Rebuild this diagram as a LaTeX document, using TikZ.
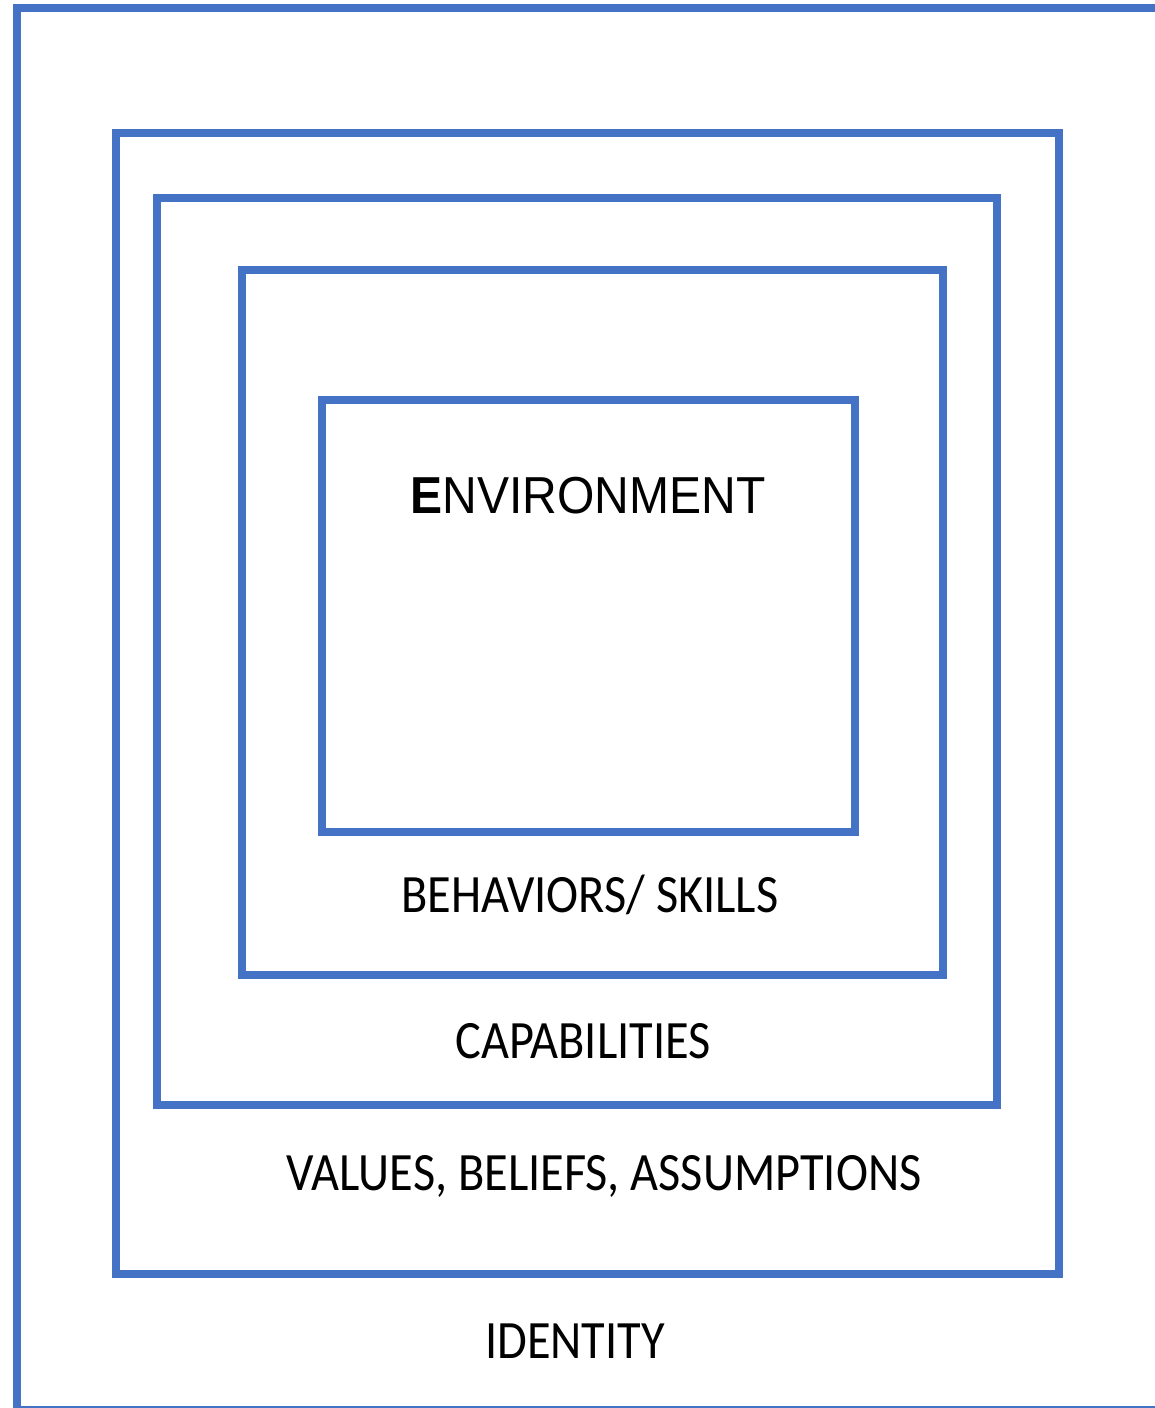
\documentclass[tikz,border=0pt]{standalone}
\usepackage{graphicx}
\usepackage{fontspec}
\setmainfont{Carlito}
\newfontfamily\arialf{Liberation Sans}
\definecolor{boxblue}{HTML}{4472C4}
\newcommand{\sq}[1]{\scalebox{0.895}[1]{#1}}
\begin{document}
\begin{tikzpicture}[x=1pt,y=-1pt,
  layerbox/.style={draw=boxblue,line width=8pt},
  lbl/.style={anchor=base,inner sep=0pt,font=\fontsize{54}{60}\selectfont}]
\useasboundingbox (0,0) rectangle (1155,1408);
\clip (0,0) rectangle (1155,1408);
\fill[white] (0,0) rectangle (1155,1408);
\draw[layerbox] (17,8) rectangle (1200,1410);
\draw[layerbox] (116,133) rectangle (1059,1274);
\draw[layerbox] (157,198) rectangle (997,1105);
\draw[layerbox] (242,270) rectangle (943,975);
\draw[layerbox] (322,400) rectangle (855,832);
\node[lbl,font=\arialf\fontsize{52}{60}\selectfont] (env) at (588,513) {\scalebox{0.924}[1]{\textbf{E}NVIRONMENT}};
\node[lbl] (beh) at (590,912) {\sq{BEHAVIORS/ SKILLS}};
\node[lbl] (cap) at (583,1058) {\sq{CAPABILITIES}};
\node[lbl] (val) at (604,1190) {\sq{VALUES, BELIEFS, ASSUMPTIONS}};
\node[lbl] (ide) at (575,1358) {\sq{IDENTITY}};
\end{tikzpicture}
\end{document}
